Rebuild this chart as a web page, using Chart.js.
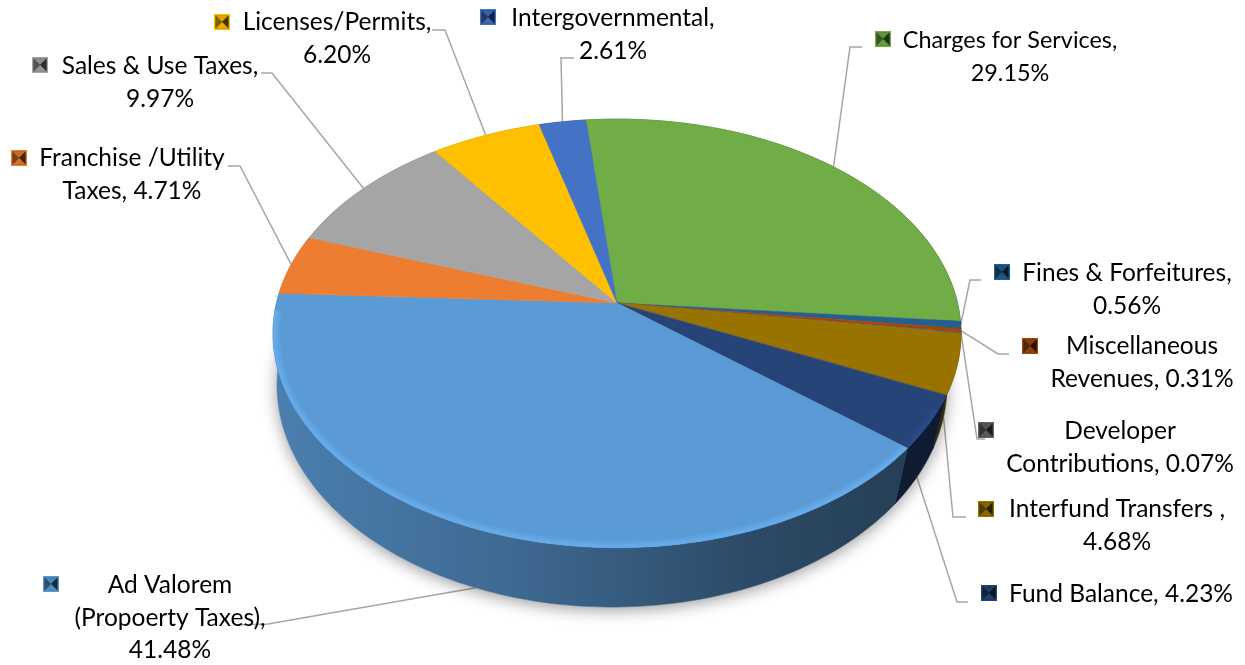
<!DOCTYPE html>
<html>
<head>
<meta charset="utf-8">
<title>Revenue sources</title>
<script src="https://cdn.jsdelivr.net/npm/chart.js@4"></script>
<style>
  html, body { margin: 0; padding: 0; background: #fff; }
  canvas { display: block; }
</style>
</head>
<body>
<canvas id="revenueChart" width="1245" height="665"></canvas>
<script>
// Clockwise from the top of the pie
const categories = [
    'Charges for Services', 'Fines & Forfeitures', 'Miscellaneous Revenues',
    'Developer Contributions', 'Interfund Transfers', 'Fund Balance',
    'Ad Valorem (Propoerty Taxes)', 'Franchise /Utility Taxes', 'Sales & Use Taxes',
    'Licenses/Permits', 'Intergovernmental'
];
const shares = [29.15, 0.56, 0.31, 0.07, 4.68, 4.23, 41.48, 4.71, 9.97, 6.20, 2.61];
const sliceColors = [
    '#70ad47', '#255e91', '#9e480e', '#636363', '#997300', '#264478',
    '#5b9bd5', '#ed7d31', '#a5a5a5', '#ffc000', '#4472c4'
];
// %v is replaced by the slice's share
const labelLines = [
    ['Charges for Services,', '%v'],
    ['Fines & Forfeitures,', '%v'],
    ['Miscellaneous', 'Revenues, %v'],
    ['Developer', 'Contributions, %v'],
    ['Interfund Transfers ,', '%v'],
    ['Fund Balance, %v'],
    ['Ad Valorem', '(Propoerty Taxes),', '%v'],
    ['Franchise /Utility', 'Taxes, %v'],
    ['Sales & Use Taxes,', '%v'],
    ['Licenses/Permits,', '%v'],
    ['Intergovernmental,', '%v']
];

// Label placement: key corner, text centre, first baseline, leader elbow path, which rim the leader lands on
const labelLayout = [
    { key: [875, 31], cx: 1010, y: 48, path: [[862, 47], [850, 47]], rim: 'top', size: 23.4 },
    { key: [994, 264], cx: 1127, y: 281, path: [[981, 280], [970, 280]], rim: 'top' },
    { key: [1022, 338], cx: 1142, y: 354, path: [[1009, 354], [998, 354]], rim: 'top' },
    { key: [978, 422], cx: 1120, y: 439, path: [[985, 439], [977, 439]], rim: 'top' },
    { key: [978, 501], cx: 1117, y: 517, path: [[966, 517], [953, 517]], rim: 'bottom' },
    { key: [981, 585], cx: 1121, y: 602, path: [[968, 602], [957, 602]], rim: 'bottom' },
    { key: [43, 576], cx: 170, y: 593, path: [[236, 625], [268, 624]], rim: 'bottom' },
    { key: [11, 150], cx: 132, y: 166, path: [[228, 166], [240, 166]], rim: 'top' },
    { key: [32, 57], cx: 160, y: 74, path: [[261, 73], [272, 73]], rim: 'top' },
    { key: [214, 14], cx: 337, y: 30, path: [[432, 30], [445, 30]], rim: 'top' },
    { key: [480, 9], cx: 613, y: 26, path: [[574, 58], [561, 58]], rim: 'top' }
];

// Top face and bottom rim of the tilted disc: unit circle through a perspective divide
const TILT = 0.142;
const topFace = { ax: 617, ay: 303, a: 340.5, b: 210 };
const bottomFace = { ax: 612, ay: 353.5, a: 331.6, b: 217.5 };

function project(face, angle, radius = 1) {
    const u = Math.cos(angle) * radius;
    const v = Math.sin(angle) * radius;
    const w = 1 - TILT * v;
    return [face.ax + face.a * u / w, face.ay + face.b * v / w];
}

function rimPoints(face, start, end) {
    const steps = Math.max(2, Math.ceil((end - start) / (Math.PI / 180)));
    const points = [];
    for (let i = 0; i <= steps; i++) {
        points.push(project(face, start + (end - start) * i / steps));
    }
    return points;
}

function tracePoints(ctx, points, moveFirst = true) {
    points.forEach((p, i) => {
        if (i === 0 && moveFirst) ctx.moveTo(p[0], p[1]);
        else ctx.lineTo(p[0], p[1]);
    });
}

function shade(hex, factor) {
    const n = parseInt(hex.slice(1), 16);
    const part = shift => Math.min(255, Math.round(((n >> shift) & 255) * factor));
    return `rgb(${part(16)},${part(8)},${part(0)})`;
}

// Arc element that lays its slice on the tilted top face
class TiltedArc extends Chart.ArcElement {
    static id = 'tiltedArc';

    draw(ctx) {
        const color = this.options.backgroundColor;
        ctx.save();
        ctx.beginPath();
        ctx.moveTo(topFace.ax, topFace.ay);
        tracePoints(ctx, rimPoints(topFace, this.startAngle, this.endAngle), false);
        ctx.closePath();
        ctx.fillStyle = color;
        ctx.fill();
        ctx.strokeStyle = color;
        ctx.lineWidth = 0.6;
        ctx.stroke();
        ctx.clip();

        // soft lit edge along the front of the disc, hugging the rim
        const from = Math.max(this.startAngle, 0.5);
        const to = Math.min(this.endAngle, Math.PI - 0.02);
        if (to > from) {
            const edge = [];
            for (let a = from; a <= to; a += Math.PI / 180) {
                edge.push(project(topFace, a, 1));
            }
            ctx.beginPath();
            tracePoints(ctx, edge);
            ctx.lineJoin = 'round';
            ctx.strokeStyle = shade(color, 1.13);
            [[14, 0.25], [10, 0.35], [6, 0.6]].forEach(([width, alpha]) => {
                ctx.globalAlpha = alpha;
                ctx.lineWidth = width;
                ctx.stroke();
            });
        }
        ctx.restore();
    }
}

class TiltedPieController extends Chart.PieController {
    static id = 'tiltedPie';
    static defaults = { dataElementType: 'tiltedArc' };
}

Chart.register(TiltedArc, TiltedPieController);

function midAngle(arc) {
    return (arc.startAngle + arc.endAngle) / 2;
}

function drawLeaders(ctx, arcs) {
    ctx.save();
    ctx.strokeStyle = '#a6a6a6';
    ctx.lineWidth = 1.5;
    arcs.forEach((arc, i) => {
        const place = labelLayout[i];
        const face = place.rim === 'bottom' ? bottomFace : topFace;
        const end = project(face, midAngle(arc));
        ctx.beginPath();
        tracePoints(ctx, place.path.concat([end]));
        ctx.stroke();
    });
    ctx.restore();
}

function drawWalls(ctx, arcs) {
    const whole = rimPoints(bottomFace, 0, Math.PI * 2);

    // soft shadow under the disc
    ctx.save();
    ctx.shadowColor = 'rgba(0,0,0,0.4)';
    ctx.shadowBlur = 16;
    ctx.shadowOffsetY = 3;
    ctx.beginPath();
    tracePoints(ctx, whole);
    ctx.closePath();
    ctx.fillStyle = '#fff';
    ctx.fill();
    ctx.restore();

    const backToFront = arcs.slice().sort((a, b) => Math.sin(midAngle(a)) - Math.sin(midAngle(b)));
    backToFront.forEach(arc => {
        const color = arc.options.backgroundColor;
        const gradient = ctx.createLinearGradient(273, 0, 961, 0);
        gradient.addColorStop(0, shade(color, 0.82));
        gradient.addColorStop(0.35, shade(color, 0.68));
        gradient.addColorStop(0.7, shade(color, 0.48));
        gradient.addColorStop(1, shade(color, 0.38));

        ctx.beginPath();
        tracePoints(ctx, rimPoints(topFace, arc.startAngle, arc.endAngle));
        tracePoints(ctx, rimPoints(bottomFace, arc.startAngle, arc.endAngle).reverse(), false);
        ctx.closePath();
        ctx.fillStyle = gradient;
        ctx.strokeStyle = gradient;
        ctx.lineWidth = 0.6;
        ctx.fill();
        ctx.stroke();
    });
}

// Small bevelled square next to each label
function drawKey(ctx, x, y, color) {
    const s = 16;
    const inset = 1.5;
    const cx = x + s / 2;
    const cy = y + s / 2;
    ctx.fillStyle = color;
    ctx.fillRect(x, y, s, s);
    ctx.fillStyle = shade(color, 0.5);
    ctx.fillRect(x + inset, y + inset, s - inset * 2, s - inset * 2);
    const a = x + inset;
    const b = y + inset;
    const c = x + s - inset;
    const d = y + s - inset;
    const corners = [[a, b], [c, b], [c, d], [a, d]];
    const sideShades = [0.85, 0.28, 0.9, 0.5];
    corners.forEach((corner, i) => {
        const next = corners[(i + 1) % 4];
        ctx.beginPath();
        ctx.moveTo(corner[0], corner[1]);
        ctx.lineTo(next[0], next[1]);
        ctx.lineTo(cx, cy);
        ctx.closePath();
        ctx.fillStyle = shade(color, sideShades[i]);
        ctx.fill();
    });
}

function drawLabels(ctx, arcs) {
    ctx.save();
    ctx.textAlign = 'center';
    ctx.textBaseline = 'alphabetic';
    arcs.forEach((arc, i) => {
        const place = labelLayout[i];
        drawKey(ctx, place.key[0], place.key[1], arc.options.backgroundColor);
        ctx.font = `${place.size || 24.5}px Lato, "Open Sans", sans-serif`;
        ctx.fillStyle = '#000';
        labelLines[i].forEach((line, row) => {
            const text = line.replace('%v', shares[i].toFixed(2) + '%');
            ctx.fillText(text, place.cx, place.y + row * 32.5);
        });
    });
    ctx.restore();
}

const discPlugin = {
    id: 'disc',
    beforeDatasetsDraw(chart) {
        const arcs = chart.getDatasetMeta(0).data;
        drawLeaders(chart.ctx, arcs);
        drawWalls(chart.ctx, arcs);
    },
    afterDatasetsDraw(chart) {
        drawLabels(chart.ctx, chart.getDatasetMeta(0).data);
    }
};

new Chart(document.getElementById('revenueChart'), {
    type: 'tiltedPie',
    data: {
        labels: categories,
        datasets: [{ data: shares, backgroundColor: sliceColors, borderWidth: 0 }]
    },
    options: {
        responsive: false,
        animation: false,
        events: [],
        rotation: -6,
        plugins: {
            legend: { display: false },
            tooltip: { enabled: false }
        }
    },
    plugins: [discPlugin]
});
</script>
</body>
</html>
